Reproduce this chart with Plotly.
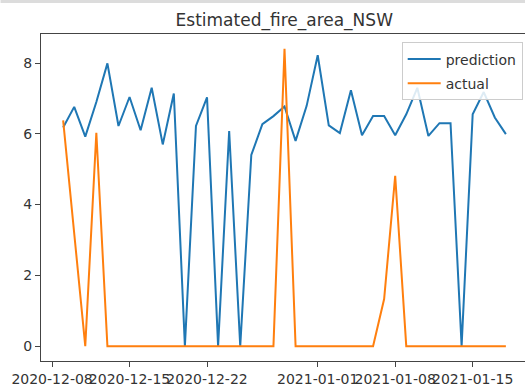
import pandas as pd
import plotly.graph_objects as go

# Daily series, 2020-12-09 .. 2021-01-18
start_date = "2020-12-09"
n_days = 41
dates = pd.date_range(start_date, periods=n_days, freq="D")

prediction = [
    6.18, 6.76, 5.92, 6.90, 7.99, 6.22, 7.04, 6.10, 7.30, 5.70,
    7.14, 0.00, 6.22, 7.03, 0.00, 6.08, 0.00, 5.40, 6.27, 6.50,
    6.77, 5.80, 6.79, 8.22, 6.24, 6.02, 7.23, 5.96, 6.50, 6.50,
    5.96, 6.55, 7.30, 5.94, 6.30, 6.30, 0.00, 6.55, 7.18, 6.46,
    5.99,
]
actual = [
    6.38, 3.20, 0.00, 6.03, 0.00, 0.00, 0.00, 0.00, 0.00, 0.00,
    0.00, 0.00, 0.00, 0.00, 0.00, 0.00, 0.00, 0.00, 0.00, 0.00,
    8.40, 0.00, 0.00, 0.00, 0.00, 0.00, 0.00, 0.00, 0.00, 1.33,
    4.81, 0.00, 0.00, 0.00, 0.00, 0.00, 0.00, 0.00, 0.00, 0.00,
    0.00,
]

tick_dates = ["2020-12-08", "2020-12-15", "2020-12-22",
              "2021-01-01", "2021-01-08", "2021-01-15"]
y_ticks = [0, 2, 4, 6, 8]
title = "Estimated_fire_area_NSW"

BLUE = "#1f77b4"
ORANGE = "#ff7f0e"
FONT = "DejaVu Sans"
INK = "#333333"

W, H = 525, 390
ml, mt, mb, mr = 40.5, 34, 28.5, 0
plot_w = W - ml - mr
plot_h = H - mt - mb

# x range: 2-day pad on the left, axis continues past the right edge
px_per_day = 11.08
x0 = dates[0] - pd.Timedelta(days=2)
x1 = x0 + pd.Timedelta(days=plot_w / px_per_day)

fig = go.Figure()
fig.add_trace(go.Scatter(x=dates, y=prediction, mode="lines", name="prediction",
                         legendgroup="prediction",
                         line=dict(color=BLUE, width=2)))
fig.add_trace(go.Scatter(x=dates, y=actual, mode="lines", name="actual",
                         legendgroup="actual",
                         line=dict(color=ORANGE, width=2)))

axis_common = dict(showgrid=False, zeroline=False, showline=True,
                   linecolor="#444444", linewidth=1.2,
                   ticks="outside", ticklen=5, tickwidth=1.2, tickcolor="#444444",
                   tickfont=dict(family=FONT, size=14, color=INK),
                   automargin=False)

fig.update_xaxes(range=[x0, x1], tickvals=pd.to_datetime(tick_dates),
                 ticktext=tick_dates, tickangle=0, mirror=True,
                 ticklabeloverflow="allow", **axis_common)
fig.update_yaxes(range=[-0.42, 8.82], tickvals=y_ticks, **axis_common)

top_paper = 1 + mt / plot_h
fig.update_layout(
    width=W, height=H,
    margin=dict(l=ml, r=mr, t=mt, b=mb, pad=0, autoexpand=False),
    paper_bgcolor="white", plot_bgcolor="white",
    title=dict(text=title, x=(284 - ml) / plot_w, xref="paper", xanchor="center",
               y=1 - 20 / H, yanchor="middle",
               font=dict(family=FONT, size=17, color=INK)),
    legend=dict(x=(522.7 - ml) / plot_w, xanchor="right",
                y=1 - (42.5 - mt) / plot_h, yanchor="top",
                traceorder="grouped", tracegroupgap=3, itemwidth=33,
                bgcolor="rgba(255,255,255,0.85)", bordercolor="#cccccc",
                borderwidth=1, font=dict(family=FONT, size=14, color=INK)),
    showlegend=True,
    shapes=[dict(type="rect", xref="paper", yref="paper",
                 x0=-ml / plot_w, x1=1, y0=top_paper - 3 / plot_h, y1=top_paper,
                 fillcolor="#dcdcdc", line=dict(width=0), layer="above")],
)

fig.write_html("out.html")
